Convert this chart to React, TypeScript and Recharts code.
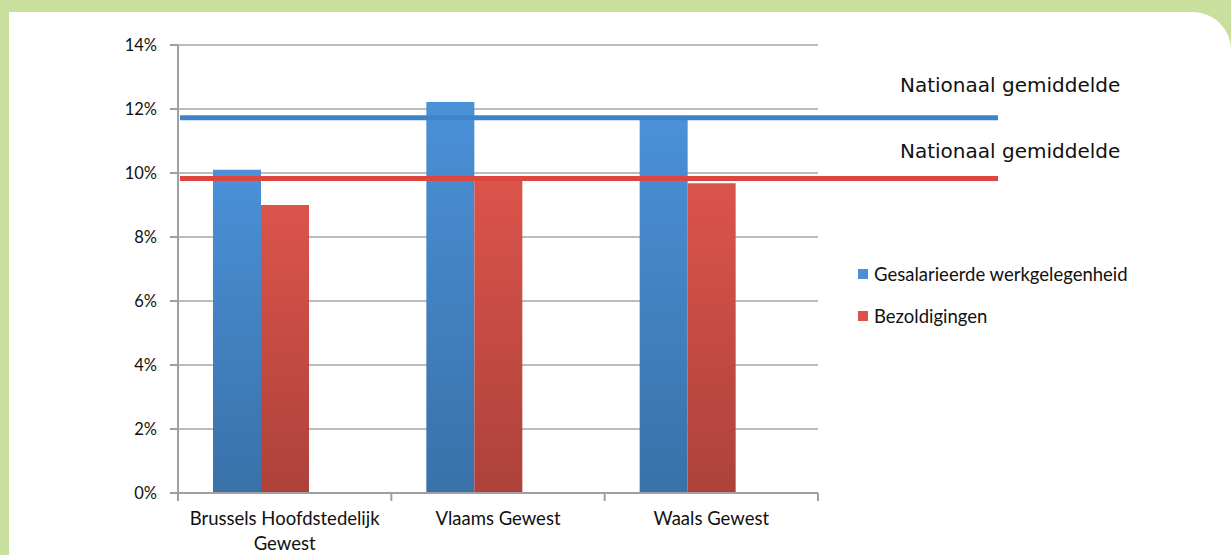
import { ComposedChart, Bar, XAxis, YAxis, CartesianGrid, ReferenceLine } from 'recharts'

const regions = ['Brussels Hoofdstedelijk Gewest', 'Vlaams Gewest', 'Waals Gewest']
const employment = [10.1, 12.22, 11.7]
const wages = [9.0, 9.82, 9.68]
const nationalEmployment = 11.73
const nationalWages = 9.83
const yTicks = [0, 2, 4, 6, 8, 10, 12, 14]
const legendItems = [
  { label: 'Gesalarieerde werkgelegenheid', color: '#4a8fd5' },
  { label: 'Bezoldigingen', color: '#d9534b' },
]

const data = regions.map((region, i) => ({ region, employment: employment[i], wages: wages[i] }))

const FONT = 'Lato, "Open Sans", sans-serif'
const PLOT_LEFT = 178
const PLOT_RIGHT = 818
const BAND = (PLOT_RIGHT - PLOT_LEFT) / regions.length

const LINE_LABELS: Record<string, number> = { blue: -31, red: -26 }

function NationalLine(props: any) {
  const { x1, y1, x2, y2, stroke, kind } = props
  return (
    <g>
      <line x1={x1 + 2} y1={y1} x2={x2 + 180} y2={y2} stroke={stroke} strokeWidth={5} />
      <text
        x={900}
        y={y1 + LINE_LABELS[kind]}
        fontFamily='"DejaVu Sans", sans-serif'
        fontSize={20}
        fill="#111"
        dominantBaseline="middle"
      >
        Nationaal gemiddelde
      </text>
    </g>
  )
}

function RegionTick(props: any) {
  const { x, y, payload, index } = props
  const words = String(payload.value).split(' ')
  const lines = words.length > 2 ? [words.slice(0, 2).join(' '), words.slice(2).join(' ')] : [words.join(' ')]
  return (
    <g>
      <line x1={x - BAND / 2} y1={y - 8} x2={x - BAND / 2} y2={y} stroke="#a0a0a0" strokeWidth={2} />
      {index === regions.length - 1 && (
        <line x1={x + BAND / 2} y1={y - 8} x2={x + BAND / 2} y2={y} stroke="#a0a0a0" strokeWidth={2} />
      )}
      {lines.map((l, i) => (
        <text key={l} x={x} y={y + 24 + i * 25} textAnchor="middle" fontFamily={FONT} fontSize={18.5} fill="#111">
          {l}
        </text>
      ))}
    </g>
  )
}

export default function App() {
  return (
    <div style={{ position: 'absolute', left: 0, top: 0, width: 1231, height: 555, background: '#c9df9e', overflow: 'hidden' }}>
      <div
        style={{
          position: 'absolute', left: 9, top: 12, width: 1222, height: 543,
          background: '#fff', borderTopRightRadius: 38,
        }}
      />
      <div style={{ position: 'absolute', left: 0, top: 0 }}>
        <ComposedChart
          width={1231}
          height={555}
          data={data}
          margin={{ top: 45, right: 1231 - PLOT_RIGHT, bottom: 0, left: 0 }}
          barSize={48}
          barGap={0}
        >
          <defs>
            <linearGradient id="gBlue" x1="0" y1="0" x2="0" y2="1">
              <stop offset="0%" stopColor="#4a91d8" />
              <stop offset="100%" stopColor="#3a71a9" />
            </linearGradient>
            <linearGradient id="gRed" x1="0" y1="0" x2="0" y2="1">
              <stop offset="0%" stopColor="#db544b" />
              <stop offset="100%" stopColor="#ad423a" />
            </linearGradient>
          </defs>
          <CartesianGrid vertical={false} stroke="#a6a6a6" strokeWidth={1.5} />
          <XAxis
            dataKey="region"
            height={62}
            tickLine={false}
            axisLine={{ stroke: '#a0a0a0', strokeWidth: 2 }}
            tick={<RegionTick />}
            interval={0}
          />
          <YAxis
            width={PLOT_LEFT}
            domain={[0, 14]}
            ticks={yTicks}
            tickFormatter={(v: number) => `${v}%`}
            tickSize={8}
            tickMargin={13}
            tickLine={{ stroke: '#a0a0a0', strokeWidth: 2 }}
            axisLine={{ stroke: '#a0a0a0', strokeWidth: 2 }}
            tick={{ fontFamily: FONT, fontSize: 16.5, fill: '#111' }}
          />
          <Bar dataKey="employment" fill="url(#gBlue)" isAnimationActive={false} />
          <Bar dataKey="wages" fill="url(#gRed)" isAnimationActive={false} />
          <Bar dataKey="spacer" fill="none" isAnimationActive={false} />
          <ReferenceLine y={nationalEmployment} stroke="#3f84c9" shape={(p: any) => <NationalLine {...p} kind="blue" />} />
          <ReferenceLine y={nationalWages} stroke="#dc4540" shape={(p: any) => <NationalLine {...p} kind="red" />} />
        </ComposedChart>
      </div>
      <div style={{ position: 'absolute', left: 858, top: 253, fontFamily: FONT, fontSize: 18.5, color: '#111' }}>
        {legendItems.map((it) => (
          <div key={it.label} style={{ display: 'flex', alignItems: 'center', height: 42 }}>
            <span style={{ width: 10, height: 10, background: it.color, marginRight: 6, display: 'inline-block' }} />
            {it.label}
          </div>
        ))}
      </div>
    </div>
  )
}
